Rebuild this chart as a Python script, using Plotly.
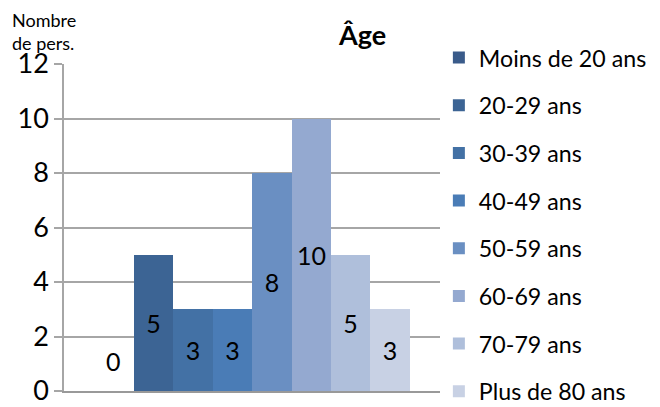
import plotly.graph_objects as go

series = ["Moins de 20 ans", "20-29 ans", "30-39 ans", "40-49 ans",
          "50-59 ans", "60-69 ans", "70-79 ans", "Plus de 80 ans"]
values = [0, 5, 3, 3, 8, 10, 5, 3]
colors = ["#3A5B8A", "#3C6494", "#4371A5", "#4A7CB6",
          "#6A8FC2", "#94A9D0", "#AFBFDB", "#C8D1E4"]
y_ticks = [0, 2, 4, 6, 8, 10, 12]

FONT = "Lato"
W, H = 652, 399
fig = go.Figure()
for i, (name, v, c) in enumerate(zip(series, values, colors)):
    fig.add_trace(go.Bar(
        x=[name], y=[v], name=name, marker=dict(color=c, line=dict(width=0)),
        text=[str(v)] if v > 0 else None,
        textposition="inside", insidetextanchor="middle",
        textfont=dict(family=FONT, size=25, color="#000000"),
        legendgroup=name, width=1,
    ))
    if v == 0:
        fig.add_annotation(x=name, y=v, text=str(v), showarrow=False,
                           yshift=30, font=dict(family=FONT, size=25, color="#000000"))

fig.update_layout(
    width=W, height=H,
    margin=dict(l=56, r=220, t=56, b=16, autoexpand=False),
    paper_bgcolor="white", plot_bgcolor="white",
    barmode="relative", bargap=0,
    showlegend=True,
    legend=dict(x=0.997, xanchor="left", xref="paper", y=1 - 28 / H, yanchor="top",
                yref="container",
                font=dict(family=FONT, size=23.2, color="#000000"),
                traceorder="grouped", tracegroupgap=14.5, maxheight=1.0,
                itemwidth=30, bgcolor="rgba(0,0,0,0)"),
    font=dict(family=FONT, color="#000000"),
    uniformtext=dict(mode="show", minsize=10),
)
fig.update_xaxes(type="category", categoryorder="array", categoryarray=series,
                 range=[-1.26, 8.26], showticklabels=False, showgrid=False,
                 showline=True, linecolor="#999999", linewidth=2, ticks="",
                 zeroline=False, fixedrange=True)
fig.update_yaxes(range=[0, 12], tickvals=y_ticks, ticktext=[str(t) for t in y_ticks],
                 showgrid=True, gridcolor="#A6A6A6", gridwidth=1.5,
                 showline=True, linecolor="#A6A6A6", linewidth=1.5,
                 ticks="outside", ticklen=8, tickcolor="#A6A6A6", tickwidth=1.5,
                 tickfont=dict(family=FONT, size=27, color="#000000"),
                 zeroline=False)

fig.add_annotation(xref="paper", yref="paper", x=0.861, y=1.0, yanchor="bottom",
                   yshift=11, text="<b>Âge</b>", showarrow=False,
                   font=dict(family=FONT, size=27, color="#000000"))
fig.add_annotation(xref="paper", yref="paper", x=-0.143, xanchor="left",
                   y=1.0, yanchor="bottom", yshift=8, align="left",
                   text="Nombre<br>de pers.", showarrow=False,
                   font=dict(family=FONT, size=18, color="#000000"))

fig.write_html("out.html")
